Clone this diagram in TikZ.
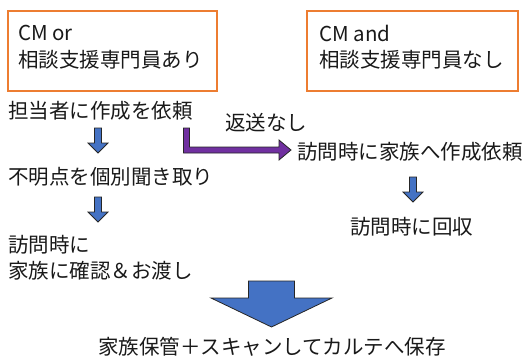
\documentclass[tikz,border=0pt]{standalone}
\usepackage{fontspec}
\setmainfont{Noto Sans CJK JP}
\definecolor{boxorange}{HTML}{ED7D31}
\definecolor{arrowblue}{HTML}{4472C4}
\definecolor{arrowpurple}{HTML}{7030A0}
\tikzset{
  txt/.style={inner sep=0pt, font=\fontsize{20.5pt}{26.5pt}\selectfont, align=left, text=black!90},
  obox/.style={draw=boxorange, line width=2pt, inner sep=0pt},
  blockarrow/.style={fill=arrowblue, draw=black!85, line width=0.8pt, line join=miter},
  purplearrow/.style={fill=arrowpurple, draw=black!85, line width=0.8pt, line join=miter},
  smallarrow/.pic={\path[blockarrow] (-3.5,0) -- (3.5,0) -- (3.5,15) -- (10,15) -- (0,25) -- (-10,15) -- (-3.5,15) -- cycle;},
  bigarrow/.pic={\path[blockarrow] (-23,0) -- (23,0) -- (23,17) -- (60.5,17) -- (0,46) -- (-60.5,17) -- (-23,17) -- cycle;}
}
\begin{document}
\begin{tikzpicture}[x=1pt,y=-1pt]
\useasboundingbox (0,0) rectangle (528,357);
% boxes
\node[obox, minimum width=209pt, minimum height=80pt, anchor=north west] (boxL) at (7,10) {};
\node[obox, minimum width=211pt, minimum height=80pt, anchor=north west] (boxR) at (306,10) {};
\node[txt, anchor=west] (tL) at (18,47) {CM or\\相談支援専門員あり};
\node[txt, anchor=west] (tR) at (319,47) {CM and\\相談支援専門員なし};
% left column
\node[txt, anchor=west] (req) at (8,111) {担当者に作成を依頼};
\node[txt, anchor=west] (ask) at (8,177) {不明点を個別聞き取り};
\node[txt, anchor=west] (visit) at (8,257.5) {訪問時に\\家族に確認＆お渡し};
% right column
\node[txt, anchor=west] (noret) at (225,123) {返送なし};
\node[txt, anchor=west] (fam) at (297,152) {訪問時に家族へ作成依頼};
\node[txt, anchor=west] (coll) at (350,227) {訪問時に回収};
% bottom
\node[txt] (keep) at (272,347) {家族保管＋スキャンしてカルテへ保存};
% arrows
\pic at (98,128) {smallarrow};
\pic at (98,197) {smallarrow};
\pic at (413,177) {smallarrow};
\pic at (271.5,281) {bigarrow};
\path[purplearrow] (183.5,128) -- (189.5,128) -- (189.5,147) -- (279,147) -- (279,140) -- (291,150) -- (279,160) -- (279,153) -- (183.5,153) -- cycle;
\end{tikzpicture}
\end{document}
